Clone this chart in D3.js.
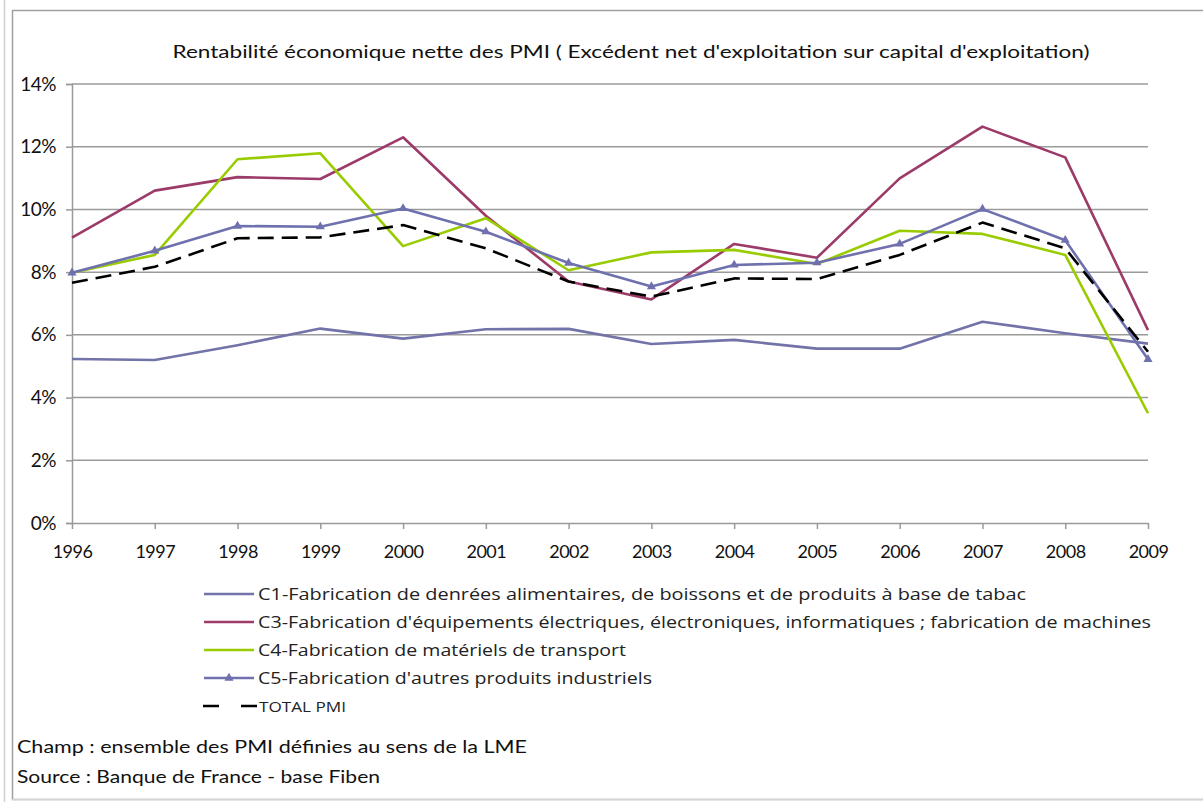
<!DOCTYPE html>
<html>
<head>
<meta charset="utf-8">
<script src="https://cdn.jsdelivr.net/npm/d3@7"></script>
<style>
  body { margin: 0; background: #fff; }
  svg { display: block; font-family: Lato, "Open Sans", sans-serif; }
</style>
</head>
<body>
<div class="chart"></div>
<script>
var width = 1203,
    height = 802;

var years = [1996, 1997, 1998, 1999, 2000, 2001, 2002, 2003, 2004, 2005, 2006, 2007, 2008, 2009];
var yTicks = [0, 2, 4, 6, 8, 10, 12, 14];

// valeurs (en %)
var c1 = [5.23, 5.2, 5.67, 6.2, 5.88, 6.18, 6.19, 5.71, 5.84, 5.56, 5.56, 6.42, 6.05, 5.72];
var c3 = [9.1, 10.6, 11.03, 10.97, 12.3, 9.8, 7.7, 7.13, 8.9, 8.46, 10.99, 12.64, 11.66, 6.15];
var c4 = [7.98, 8.55, 11.6, 11.79, 8.83, 9.72, 8.06, 8.63, 8.71, 8.26, 9.32, 9.22, 8.55, 3.5];
var c5 = [7.98, 8.68, 9.47, 9.45, 10.03, 9.29, 8.29, 7.54, 8.23, 8.3, 8.9, 10.01, 9.02, 5.22];
var total = [7.66, 8.17, 9.08, 9.11, 9.5, 8.76, 7.7, 7.22, 7.8, 7.78, 8.55, 9.58, 8.76, 5.46];

var names = [
  "C1-Fabrication de denrées alimentaires, de boissons et de produits à base de tabac",
  "C3-Fabrication d'équipements électriques, électroniques, informatiques ; fabrication de machines",
  "C4-Fabrication de matériels de transport",
  "C5-Fabrication d'autres produits industriels",
  "TOTAL PMI"
];

var series = [
  { name: names[0], values: c1, color: "#7273a8", dash: null, marker: false, len: 768 },
  { name: names[1], values: c3, color: "#9c3a68", dash: null, marker: false, len: 893 },
  { name: names[2], values: c4, color: "#99cc00", dash: null, marker: false, len: 368 },
  { name: names[3], values: c5, color: "#6f70ae", dash: null, marker: true, len: 394 },
  { name: names[4], values: total, color: "#000000", dash: "16,8", marker: false, len: 87 }
];

var svg = d3.select(".chart").append("svg")
    .attr("width", width)
    .attr("height", height);

// cadre
svg.append("line").attr("x1", 4.5).attr("x2", 4.5).attr("y1", 0).attr("y2", height)
    .attr("stroke", "#d0d0d0").attr("stroke-width", 1.5);
svg.append("rect")
    .attr("x", 12.5).attr("y", 10.5)
    .attr("width", width).attr("height", 789)
    .attr("fill", "none").attr("stroke", "#a0a0a0").attr("stroke-width", 1.5);
svg.append("line").attr("x1", 12).attr("x2", width).attr("y1", 800).attr("y2", 800)
    .attr("stroke", "#e4e4e4").attr("stroke-width", 1.5);

var x = d3.scalePoint().domain(years).range([72, 1148]);
var y = d3.scaleLinear().domain([0, 14]).range([523, 84]);

// titre
svg.append("text")
    .attr("x", 631).attr("y", 58)
    .attr("text-anchor", "middle")
    .attr("font-size", 18)
    .attr("fill", "#111")
    .attr("textLength", 917).attr("lengthAdjust", "spacingAndGlyphs")
    .text("Rentabilité économique nette des PMI ( Excédent net d'exploitation sur capital d'exploitation)");

// grille
svg.append("g")
    .selectAll("line")
    .data(yTicks.slice(1))
    .enter().append("line")
    .attr("x1", 72).attr("x2", 1148)
    .attr("y1", function (d) { return y(d); })
    .attr("y2", function (d) { return y(d); })
    .attr("stroke", "#9a9a9a").attr("stroke-width", 1.5);

// axe Y
var yAxis = svg.append("g")
    .attr("transform", "translate(72,0)")
    .call(d3.axisLeft(y).tickValues(yTicks).tickSize(6).tickPadding(10)
        .tickFormat(function (d) { return d + "%"; }));
yAxis.select(".domain").attr("stroke", "#9a9a9a").attr("stroke-width", 1.5);
yAxis.selectAll(".tick line").attr("stroke", "#9a9a9a").attr("stroke-width", 1.5);
yAxis.selectAll("text").attr("font-size", 19).attr("fill", "#111")
    .attr("font-family", "Lato, sans-serif").attr("letter-spacing", "-0.5");

// axe X
var xAxis = svg.append("g")
    .attr("transform", "translate(0,523)")
    .call(d3.axisBottom(x).tickSize(6).tickPadding(16).tickSizeOuter(0));
xAxis.select(".domain").attr("stroke", "#9a9a9a").attr("stroke-width", 1.5);
xAxis.selectAll(".tick line").attr("stroke", "#9a9a9a").attr("stroke-width", 1.5);
xAxis.selectAll("text").attr("font-size", 18).attr("fill", "#111")
    .attr("font-family", "Lato, sans-serif").attr("letter-spacing", "-0.5");

// courbes
var line = d3.line()
    .x(function (d, i) { return x(years[i]); })
    .y(function (d) { return y(d); });

var order = [0, 1, 2, 3, 4];
order.forEach(function (k) {
    var s = series[k];
    svg.append("path")
        .datum(s.values)
        .attr("d", line)
        .attr("fill", "none")
        .attr("stroke", s.color)
        .attr("stroke-width", 2.6)
        .attr("stroke-dasharray", s.dash)
        .attr("stroke-linejoin", "round");
    if (s.marker) {
        svg.selectAll(".mk" + k)
            .data(s.values)
            .enter().append("path")
            .attr("d", d3.symbol().type(d3.symbolTriangle).size(36))
            .attr("transform", function (d, i) {
                return "translate(" + x(years[i]) + "," + y(d) + ")";
            })
            .attr("fill", s.color);
    }
});

// légende
var legend = svg.append("g");
var rows = legend.selectAll("g")
    .data(series)
    .enter().append("g")
    .attr("transform", function (d, i) { return "translate(0," + (594 + i * 28) + ")"; });
rows.append("line")
    .attr("x1", function (d) { return d.dash ? 203 : 204; })
    .attr("x2", function (d) { return d.dash ? 257 : 254; })
    .attr("y1", 0).attr("y2", 0)
    .attr("stroke", function (d) { return d.color; })
    .attr("stroke-width", 2.6)
    .attr("stroke-dasharray", function (d) { return d.dash ? "16,22" : null; });
rows.filter(function (d) { return d.marker; })
    .append("path")
    .attr("d", d3.symbol().type(d3.symbolTriangle).size(36))
    .attr("transform", "translate(229,0)")
    .attr("fill", function (d) { return d.color; });
rows.append("text")
    .attr("x", function (d) { return d.dash ? 259 : 258; })
    .attr("y", 6)
    .attr("font-family", "'Open Sans', sans-serif")
    .attr("font-size", function (d) { return d.dash ? 15 : 16; })
    .attr("fill", "#222")
    .attr("textLength", function (d) { return d.len; })
    .attr("lengthAdjust", "spacingAndGlyphs")
    .text(function (d) { return d.name; });

// notes
var notes = ["Champ : ensemble des PMI définies au sens de la LME", "Source : Banque de France - base Fiben"];
var noteLen = [510, 363];
svg.selectAll(".note")
    .data(notes)
    .enter().append("text")
    .attr("class", "note")
    .attr("x", 17)
    .attr("y", function (d, i) { return 753 + i * 30; })
    .attr("font-size", 17)
    .attr("fill", "#111")
    .attr("textLength", function (d, i) { return noteLen[i]; })
    .attr("lengthAdjust", "spacingAndGlyphs")
    .text(function (d) { return d; });
</script>
</body>
</html>
